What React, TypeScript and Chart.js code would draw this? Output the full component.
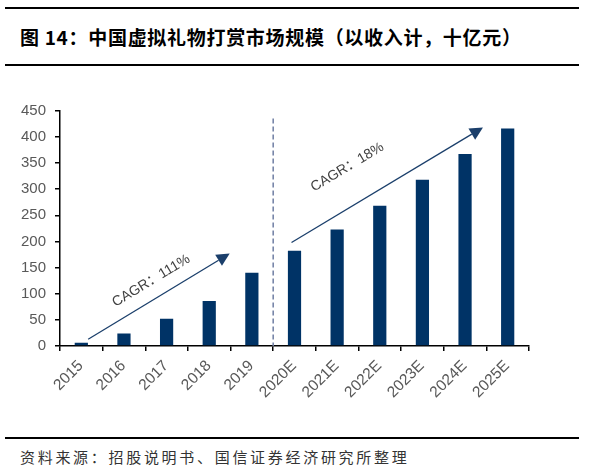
import React, { useEffect, useRef } from "react";
import { Chart, registerables } from "chart.js";

Chart.register(...registerables);

const categories = ["2015", "2016", "2017", "2018", "2019", "2020E", "2021E", "2022E", "2023E", "2024E", "2025E"];
const values = [6, 24, 52, 86, 140, 182, 223, 268, 318, 367, 416];
const yMin = 0;
const yMax = 450;
const yStep = 50;

// annotations in data space: [categoryIndex, value]
const arrowLeft = [[0.16, 13], [3.48, 177]];
const arrowRight = [[4.93, 198], [9.42, 418]];
const labelLeftText = "CAGR：111%";
const labelLeftPos = [1.64, 124.5];
const labelRightText = "CAGR：18%";
const labelRightPos = [6.24, 342];
const dividerIndex = 4.5;
const dividerTop = 435;

const TITLE = "图 14：中国虚拟礼物打赏市场规模（以收入计，十亿元）";
const SOURCE = "资料来源：招股说明书、国信证券经济研究所整理";

const annotPlugin = {
  id: "annot",
  afterDatasetsDraw(chart: any) {
    const { ctx } = chart;
    const xs = chart.scales.x;
    const ys = chart.scales.y;
    const P = (p: number[]) => [xs.getPixelForValue(p[0]), ys.getPixelForValue(p[1])];

    ctx.save();
    // dashed divider between actual and forecast
    ctx.strokeStyle = "#6f7ea3";
    ctx.lineWidth = 1.5;
    ctx.setLineDash([5, 3]);
    const dx = xs.getPixelForValue(dividerIndex);
    ctx.beginPath();
    ctx.moveTo(dx, ys.getPixelForValue(dividerTop));
    ctx.lineTo(dx, ys.getPixelForValue(0));
    ctx.stroke();
    ctx.setLineDash([]);

    const drawArrow = (a: number[][]) => {
      const [x0, y0] = P(a[0]);
      const [x1, y1] = P(a[1]);
      const ang = Math.atan2(y1 - y0, x1 - x0);
      const hl = 13;
      const hw = 6.5;
      const bx = x1 - hl * Math.cos(ang);
      const by = y1 - hl * Math.sin(ang);
      ctx.strokeStyle = "#1b3f6b";
      ctx.fillStyle = "#1b3f6b";
      ctx.lineWidth = 1.3;
      ctx.beginPath();
      ctx.moveTo(x0, y0);
      ctx.lineTo(bx, by);
      ctx.stroke();
      ctx.beginPath();
      ctx.moveTo(x1, y1);
      ctx.lineTo(bx + hw * Math.sin(ang), by - hw * Math.cos(ang));
      ctx.lineTo(bx - hw * Math.sin(ang), by + hw * Math.cos(ang));
      ctx.closePath();
      ctx.fill();
      return ang;
    };
    const angL = drawArrow(arrowLeft);
    const angR = drawArrow(arrowRight);

    const drawLabel = (t: string, p: number[], ang: number) => {
      const [x, y] = P(p);
      ctx.save();
      ctx.translate(x, y);
      ctx.rotate(ang);
      ctx.fillStyle = "#404040";
      ctx.font = "14px 'Liberation Sans', Arial, 'Noto Sans CJK SC', sans-serif";
      ctx.textAlign = "center";
      ctx.textBaseline = "middle";
      ctx.fillText(t, 0, 0);
      ctx.restore();
    };
    drawLabel(labelLeftText, labelLeftPos, angL);
    drawLabel(labelRightText, labelRightPos, angR);

    // rotated category labels
    const axisY = ys.getPixelForValue(0);
    ctx.fillStyle = "#595959";
    ctx.font = "15.5px 'Liberation Sans', Arial, sans-serif";
    ctx.textAlign = "right";
    ctx.textBaseline = "alphabetic";
    categories.forEach((c, i) => {
      ctx.save();
      ctx.translate(xs.getPixelForValue(i) + 2.5, axisY + 20.5);
      ctx.rotate(-Math.PI / 4);
      ctx.fillText(c, 0, 0);
      ctx.restore();
    });
    ctx.restore();
  },
};

function BarChart() {
  const ref = useRef<HTMLCanvasElement>(null);
  useEffect(() => {
    if (!ref.current) return;
    const chart = new Chart(ref.current, {
      type: "bar",
      data: {
        labels: categories,
        datasets: [
          {
            data: values,
            backgroundColor: "#003366",
            borderWidth: 0,
            barPercentage: 0.31,
            categoryPercentage: 1,
          },
        ],
      },
      options: {
        animation: false,
        responsive: false,
        maintainAspectRatio: false,
        devicePixelRatio: 1,
        layout: { padding: { top: 20.7, right: 62, left: 0, bottom: 0 } },
        plugins: { legend: { display: false }, tooltip: { enabled: false }, title: { display: false } },
        scales: {
          x: {
            grid: { drawOnChartArea: false, drawTicks: true, tickLength: 5, color: "#000", lineWidth: 1.5, offset: true },
            border: { color: "#000", width: 1.5 },
            ticks: { display: false },
            afterFit: (s: any) => {
              s.height = 84;
            },
          },
          y: {
            min: yMin,
            max: yMax,
            grid: { drawOnChartArea: false, drawTicks: true, tickLength: 5, color: "#000", lineWidth: 1.5 },
            border: { color: "#000", width: 1.5 },
            ticks: {
              stepSize: yStep,
              color: "#595959",
              font: { family: "'Liberation Sans', Arial, sans-serif", size: 15 },
              padding: 9,
            },
            afterFit: (s: any) => {
              s.width = 60;
            },
          },
        },
      },
      plugins: [annotPlugin],
    });
    return () => chart.destroy();
  }, []);
  return (
    <canvas
      ref={ref}
      width={591}
      height={340}
      style={{ position: "absolute", left: 0, top: 90, width: 591, height: 340 }}
    />
  );
}

export default function App() {
  return (
    <div
      style={{
        position: "fixed",
        left: 0,
        top: 0,
        width: 591,
        height: 471,
        background: "#fff",
        overflow: "hidden",
      }}
    >
      <div style={{ position: "absolute", left: 5, top: 6.5, width: 574, height: 2, background: "#000" }} />
      <div
        style={{
          position: "absolute",
          left: 20,
          top: 24,
          height: 26,
          lineHeight: "26px",
          fontSize: 19,
          fontWeight: 700,
          letterSpacing: 0.7,
          whiteSpace: "nowrap",
          color: "#000",
          fontFamily: "'Noto Sans CJK SC', 'Liberation Sans', sans-serif",
        }}
      >
        {TITLE}
      </div>
      <div style={{ position: "absolute", left: 5, top: 64, width: 574, height: 2, background: "#000" }} />
      <BarChart />
      <div style={{ position: "absolute", left: 5, top: 436.5, width: 574, height: 2, background: "#000" }} />
      <div
        style={{
          position: "absolute",
          left: 20,
          top: 446,
          height: 22,
          lineHeight: "22px",
          fontSize: 15,
          letterSpacing: 2.7,
          whiteSpace: "nowrap",
          color: "#333",
          fontFamily: "'Noto Sans CJK SC', sans-serif",
        }}
      >
        {SOURCE}
      </div>
    </div>
  );
}
